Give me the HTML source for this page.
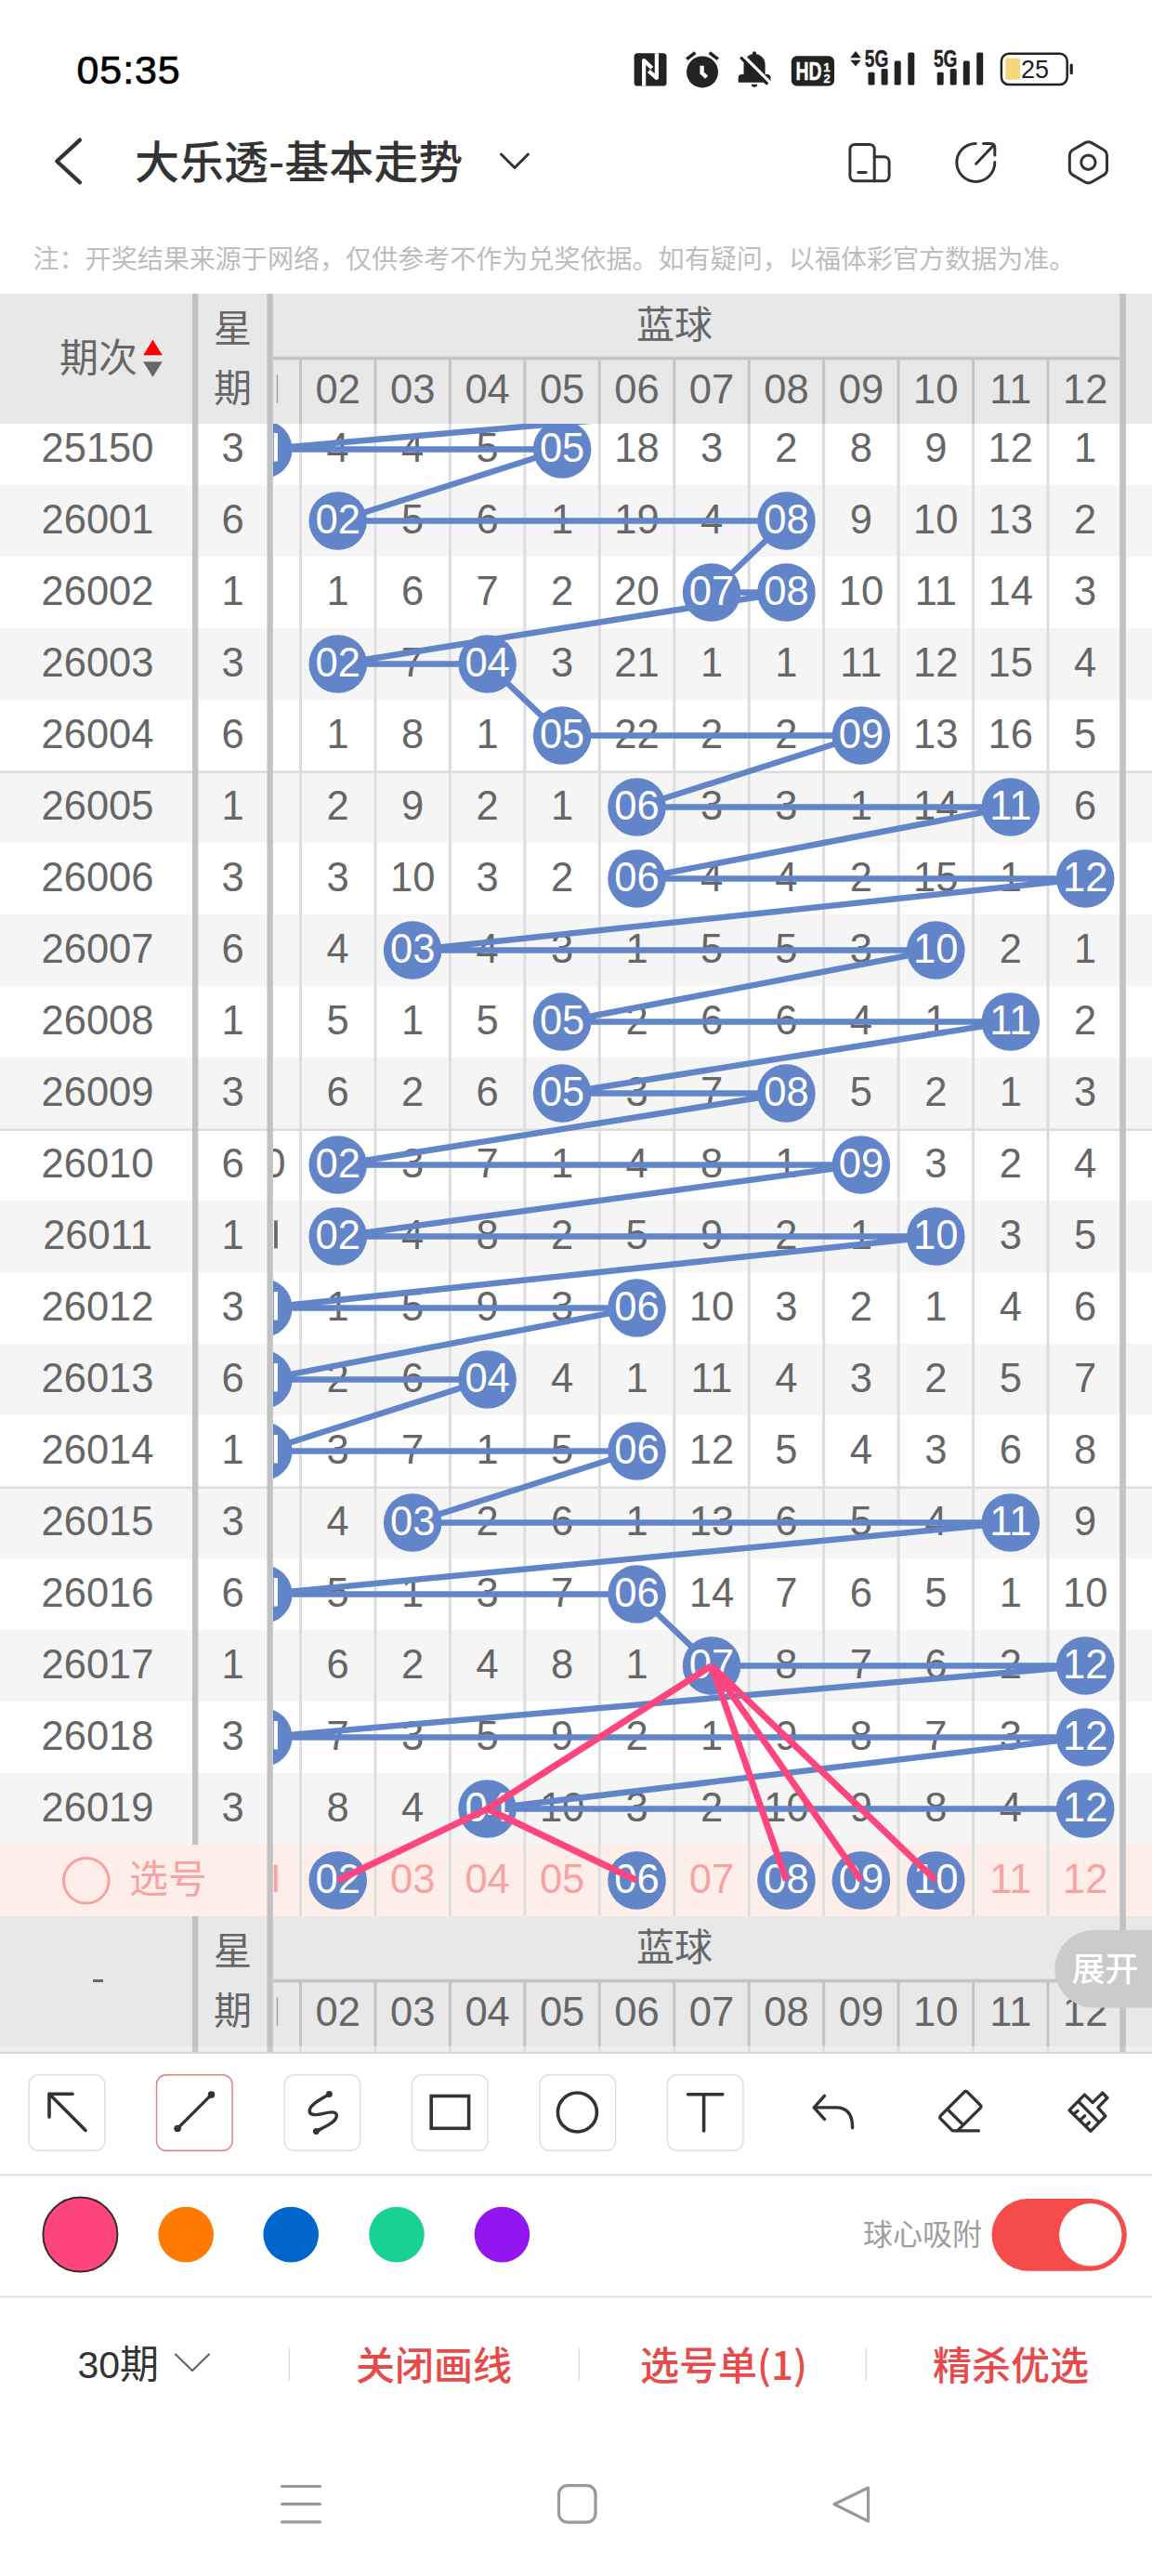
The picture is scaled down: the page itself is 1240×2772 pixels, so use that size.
<!DOCTYPE html><html><head><meta charset="utf-8"><title>大乐透-基本走势</title><style>
html,body{margin:0;padding:0;background:#fff;}
body{width:1240px;height:2772px;overflow:hidden;position:relative;font-family:'Liberation Sans','Noto Sans CJK SC',sans-serif;}
svg{position:absolute;left:0;top:0;display:block;}
</style></head><body>
<svg width="1240" height="2772" viewBox="0 0 1240 2772">
<defs>
<clipPath id="cbody"><rect x="294" y="456" width="946" height="1606"/></clipPath>
<clipPath id="cbody2"><rect x="294" y="456" width="911" height="1606"/></clipPath>
<clipPath id="chead"><rect x="294" y="316" width="911" height="140"/></clipPath>
<clipPath id="cfoot"><rect x="294" y="2062" width="911" height="147"/></clipPath>
</defs>
<rect x="0" y="445" width="1240" height="77" fill="#ffffff"/>
<rect x="0" y="522" width="1240" height="77" fill="#f5f5f5"/>
<rect x="0" y="599" width="1240" height="77" fill="#ffffff"/>
<rect x="0" y="676" width="1240" height="77" fill="#f5f5f5"/>
<rect x="0" y="753" width="1240" height="77" fill="#ffffff"/>
<rect x="0" y="830" width="1240" height="77" fill="#f5f5f5"/>
<rect x="0" y="907" width="1240" height="77" fill="#ffffff"/>
<rect x="0" y="984" width="1240" height="77" fill="#f5f5f5"/>
<rect x="0" y="1061" width="1240" height="77" fill="#ffffff"/>
<rect x="0" y="1138" width="1240" height="77" fill="#f5f5f5"/>
<rect x="0" y="1215" width="1240" height="77" fill="#ffffff"/>
<rect x="0" y="1292" width="1240" height="77" fill="#f5f5f5"/>
<rect x="0" y="1369" width="1240" height="77" fill="#ffffff"/>
<rect x="0" y="1446" width="1240" height="77" fill="#f5f5f5"/>
<rect x="0" y="1523" width="1240" height="77" fill="#ffffff"/>
<rect x="0" y="1600" width="1240" height="77" fill="#f5f5f5"/>
<rect x="0" y="1677" width="1240" height="77" fill="#ffffff"/>
<rect x="0" y="1754" width="1240" height="77" fill="#f5f5f5"/>
<rect x="0" y="1831" width="1240" height="77" fill="#ffffff"/>
<rect x="0" y="1908" width="1240" height="77" fill="#f5f5f5"/>
<rect x="0" y="1985" width="1240" height="77" fill="#fdeee9"/>
<rect x="0" y="829.5" width="1240" height="2.5" fill="#dcdcdc"/>
<rect x="0" y="1214.5" width="1240" height="2.5" fill="#dcdcdc"/>
<rect x="0" y="1599.5" width="1240" height="2.5" fill="#dcdcdc"/>
<g clip-path="url(#cbody)">
<rect x="241.55" y="456" width="3" height="1606" fill="#dddddd"/>
<rect x="322.00" y="456" width="3" height="1606" fill="#dddddd"/>
<rect x="402.45" y="456" width="3" height="1606" fill="#dddddd"/>
<rect x="482.90" y="456" width="3" height="1606" fill="#dddddd"/>
<rect x="563.35" y="456" width="3" height="1606" fill="#dddddd"/>
<rect x="643.80" y="456" width="3" height="1606" fill="#dddddd"/>
<rect x="724.25" y="456" width="3" height="1606" fill="#dddddd"/>
<rect x="804.70" y="456" width="3" height="1606" fill="#dddddd"/>
<rect x="885.15" y="456" width="3" height="1606" fill="#dddddd"/>
<rect x="965.60" y="456" width="3" height="1606" fill="#dddddd"/>
<rect x="1046.05" y="456" width="3" height="1606" fill="#dddddd"/>
<rect x="1126.50" y="456" width="3" height="1606" fill="#dddddd"/>
</g>
<g clip-path="url(#cbody2)" font-size="43.5" fill="#666666" text-anchor="middle">
<text x="363.7" y="497.0">4</text>
<text x="444.2" y="497.0">4</text>
<text x="524.6" y="497.0">5</text>
<text x="685.5" y="497.0">18</text>
<text x="766.0" y="497.0">3</text>
<text x="846.4" y="497.0">2</text>
<text x="926.9" y="497.0">8</text>
<text x="1007.3" y="497.0">9</text>
<text x="1087.8" y="497.0">12</text>
<text x="1168.2" y="497.0">1</text>
<text x="444.2" y="574.0">5</text>
<text x="524.6" y="574.0">6</text>
<text x="605.1" y="574.0">1</text>
<text x="685.5" y="574.0">19</text>
<text x="766.0" y="574.0">4</text>
<text x="926.9" y="574.0">9</text>
<text x="1007.3" y="574.0">10</text>
<text x="1087.8" y="574.0">13</text>
<text x="1168.2" y="574.0">2</text>
<text x="363.7" y="651.0">1</text>
<text x="444.2" y="651.0">6</text>
<text x="524.6" y="651.0">7</text>
<text x="605.1" y="651.0">2</text>
<text x="685.5" y="651.0">20</text>
<text x="926.9" y="651.0">10</text>
<text x="1007.3" y="651.0">11</text>
<text x="1087.8" y="651.0">14</text>
<text x="1168.2" y="651.0">3</text>
<text x="444.2" y="728.0">7</text>
<text x="605.1" y="728.0">3</text>
<text x="685.5" y="728.0">21</text>
<text x="766.0" y="728.0">1</text>
<text x="846.4" y="728.0">1</text>
<text x="926.9" y="728.0">11</text>
<text x="1007.3" y="728.0">12</text>
<text x="1087.8" y="728.0">15</text>
<text x="1168.2" y="728.0">4</text>
<text x="363.7" y="805.0">1</text>
<text x="444.2" y="805.0">8</text>
<text x="524.6" y="805.0">1</text>
<text x="685.5" y="805.0">22</text>
<text x="766.0" y="805.0">2</text>
<text x="846.4" y="805.0">2</text>
<text x="1007.3" y="805.0">13</text>
<text x="1087.8" y="805.0">16</text>
<text x="1168.2" y="805.0">5</text>
<text x="363.7" y="882.0">2</text>
<text x="444.2" y="882.0">9</text>
<text x="524.6" y="882.0">2</text>
<text x="605.1" y="882.0">1</text>
<text x="766.0" y="882.0">3</text>
<text x="846.4" y="882.0">3</text>
<text x="926.9" y="882.0">1</text>
<text x="1007.3" y="882.0">14</text>
<text x="1168.2" y="882.0">6</text>
<text x="363.7" y="959.0">3</text>
<text x="444.2" y="959.0">10</text>
<text x="524.6" y="959.0">3</text>
<text x="605.1" y="959.0">2</text>
<text x="766.0" y="959.0">4</text>
<text x="846.4" y="959.0">4</text>
<text x="926.9" y="959.0">2</text>
<text x="1007.3" y="959.0">15</text>
<text x="1087.8" y="959.0">1</text>
<text x="363.7" y="1036.0">4</text>
<text x="524.6" y="1036.0">4</text>
<text x="605.1" y="1036.0">3</text>
<text x="685.5" y="1036.0">1</text>
<text x="766.0" y="1036.0">5</text>
<text x="846.4" y="1036.0">5</text>
<text x="926.9" y="1036.0">3</text>
<text x="1087.8" y="1036.0">2</text>
<text x="1168.2" y="1036.0">1</text>
<text x="363.7" y="1113.0">5</text>
<text x="444.2" y="1113.0">1</text>
<text x="524.6" y="1113.0">5</text>
<text x="685.5" y="1113.0">2</text>
<text x="766.0" y="1113.0">6</text>
<text x="846.4" y="1113.0">6</text>
<text x="926.9" y="1113.0">4</text>
<text x="1007.3" y="1113.0">1</text>
<text x="1168.2" y="1113.0">2</text>
<text x="363.7" y="1190.0">6</text>
<text x="444.2" y="1190.0">2</text>
<text x="524.6" y="1190.0">6</text>
<text x="685.5" y="1190.0">3</text>
<text x="766.0" y="1190.0">7</text>
<text x="926.9" y="1190.0">5</text>
<text x="1007.3" y="1190.0">2</text>
<text x="1087.8" y="1190.0">1</text>
<text x="1168.2" y="1190.0">3</text>
<text x="283.3" y="1267.0">10</text>
<text x="444.2" y="1267.0">3</text>
<text x="524.6" y="1267.0">7</text>
<text x="605.1" y="1267.0">1</text>
<text x="685.5" y="1267.0">4</text>
<text x="766.0" y="1267.0">8</text>
<text x="846.4" y="1267.0">1</text>
<text x="1007.3" y="1267.0">3</text>
<text x="1087.8" y="1267.0">2</text>
<text x="1168.2" y="1267.0">4</text>
<rect x="295.1" y="1313.3" width="3.7" height="30" fill="#666666"/>
<text x="444.2" y="1344.0">4</text>
<text x="524.6" y="1344.0">8</text>
<text x="605.1" y="1344.0">2</text>
<text x="685.5" y="1344.0">5</text>
<text x="766.0" y="1344.0">9</text>
<text x="846.4" y="1344.0">2</text>
<text x="926.9" y="1344.0">1</text>
<text x="1087.8" y="1344.0">3</text>
<text x="1168.2" y="1344.0">5</text>
<text x="363.7" y="1421.0">1</text>
<text x="444.2" y="1421.0">5</text>
<text x="524.6" y="1421.0">9</text>
<text x="605.1" y="1421.0">3</text>
<text x="766.0" y="1421.0">10</text>
<text x="846.4" y="1421.0">3</text>
<text x="926.9" y="1421.0">2</text>
<text x="1007.3" y="1421.0">1</text>
<text x="1087.8" y="1421.0">4</text>
<text x="1168.2" y="1421.0">6</text>
<text x="363.7" y="1498.0">2</text>
<text x="444.2" y="1498.0">6</text>
<text x="605.1" y="1498.0">4</text>
<text x="685.5" y="1498.0">1</text>
<text x="766.0" y="1498.0">11</text>
<text x="846.4" y="1498.0">4</text>
<text x="926.9" y="1498.0">3</text>
<text x="1007.3" y="1498.0">2</text>
<text x="1087.8" y="1498.0">5</text>
<text x="1168.2" y="1498.0">7</text>
<text x="363.7" y="1575.0">3</text>
<text x="444.2" y="1575.0">7</text>
<text x="524.6" y="1575.0">1</text>
<text x="605.1" y="1575.0">5</text>
<text x="766.0" y="1575.0">12</text>
<text x="846.4" y="1575.0">5</text>
<text x="926.9" y="1575.0">4</text>
<text x="1007.3" y="1575.0">3</text>
<text x="1087.8" y="1575.0">6</text>
<text x="1168.2" y="1575.0">8</text>
<text x="363.7" y="1652.0">4</text>
<text x="524.6" y="1652.0">2</text>
<text x="605.1" y="1652.0">6</text>
<text x="685.5" y="1652.0">1</text>
<text x="766.0" y="1652.0">13</text>
<text x="846.4" y="1652.0">6</text>
<text x="926.9" y="1652.0">5</text>
<text x="1007.3" y="1652.0">4</text>
<text x="1168.2" y="1652.0">9</text>
<text x="363.7" y="1729.0">5</text>
<text x="444.2" y="1729.0">1</text>
<text x="524.6" y="1729.0">3</text>
<text x="605.1" y="1729.0">7</text>
<text x="766.0" y="1729.0">14</text>
<text x="846.4" y="1729.0">7</text>
<text x="926.9" y="1729.0">6</text>
<text x="1007.3" y="1729.0">5</text>
<text x="1087.8" y="1729.0">1</text>
<text x="1168.2" y="1729.0">10</text>
<text x="363.7" y="1806.0">6</text>
<text x="444.2" y="1806.0">2</text>
<text x="524.6" y="1806.0">4</text>
<text x="605.1" y="1806.0">8</text>
<text x="685.5" y="1806.0">1</text>
<text x="846.4" y="1806.0">8</text>
<text x="926.9" y="1806.0">7</text>
<text x="1007.3" y="1806.0">6</text>
<text x="1087.8" y="1806.0">2</text>
<text x="363.7" y="1883.0">7</text>
<text x="444.2" y="1883.0">3</text>
<text x="524.6" y="1883.0">5</text>
<text x="605.1" y="1883.0">9</text>
<text x="685.5" y="1883.0">2</text>
<text x="766.0" y="1883.0">1</text>
<text x="846.4" y="1883.0">9</text>
<text x="926.9" y="1883.0">8</text>
<text x="1007.3" y="1883.0">7</text>
<text x="1087.8" y="1883.0">3</text>
<text x="363.7" y="1960.0">8</text>
<text x="444.2" y="1960.0">4</text>
<text x="605.1" y="1960.0">10</text>
<text x="685.5" y="1960.0">3</text>
<text x="766.0" y="1960.0">2</text>
<text x="846.4" y="1960.0">10</text>
<text x="926.9" y="1960.0">9</text>
<text x="1007.3" y="1960.0">8</text>
<text x="1087.8" y="1960.0">4</text>
</g>
<g clip-path="url(#cbody2)">
<polyline fill="none" stroke="#6285c9" stroke-width="6.5" stroke-linejoin="round" points="1168.2,406.5 283.3,483.5 605.1,483.5 363.7,560.5 846.4,560.5 766.0,637.5 846.4,637.5 363.7,714.5 524.6,714.5 605.1,791.5 926.9,791.5 685.5,868.5 1087.8,868.5 685.5,945.5 1168.2,945.5 444.2,1022.5 1007.3,1022.5 605.1,1099.5 1087.8,1099.5 605.1,1176.5 846.4,1176.5 363.7,1253.5 926.9,1253.5 363.7,1330.5 1007.3,1330.5 283.3,1407.5 685.5,1407.5 283.3,1484.5 524.6,1484.5 283.3,1561.5 685.5,1561.5 444.2,1638.5 1087.8,1638.5 283.3,1715.5 685.5,1715.5 766.0,1792.5 1168.2,1792.5 283.3,1869.5 1168.2,1869.5 524.6,1946.5 1168.2,1946.5"/>
<circle cx="283.3" cy="483.5" r="31.3" fill="#6285c9"/>
<rect x="294.8" y="466.0" width="4.1" height="30.5" fill="#fff"/>
<circle cx="605.1" cy="483.5" r="31.3" fill="#6285c9"/>
<text x="605.1" y="497.0" font-size="43.5" fill="#fff" text-anchor="middle">05</text>
<circle cx="363.7" cy="560.5" r="31.3" fill="#6285c9"/>
<text x="363.7" y="574.0" font-size="43.5" fill="#fff" text-anchor="middle">02</text>
<circle cx="846.4" cy="560.5" r="31.3" fill="#6285c9"/>
<text x="846.4" y="574.0" font-size="43.5" fill="#fff" text-anchor="middle">08</text>
<circle cx="766.0" cy="637.5" r="31.3" fill="#6285c9"/>
<text x="766.0" y="651.0" font-size="43.5" fill="#fff" text-anchor="middle">07</text>
<circle cx="846.4" cy="637.5" r="31.3" fill="#6285c9"/>
<text x="846.4" y="651.0" font-size="43.5" fill="#fff" text-anchor="middle">08</text>
<circle cx="363.7" cy="714.5" r="31.3" fill="#6285c9"/>
<text x="363.7" y="728.0" font-size="43.5" fill="#fff" text-anchor="middle">02</text>
<circle cx="524.6" cy="714.5" r="31.3" fill="#6285c9"/>
<text x="524.6" y="728.0" font-size="43.5" fill="#fff" text-anchor="middle">04</text>
<circle cx="605.1" cy="791.5" r="31.3" fill="#6285c9"/>
<text x="605.1" y="805.0" font-size="43.5" fill="#fff" text-anchor="middle">05</text>
<circle cx="926.9" cy="791.5" r="31.3" fill="#6285c9"/>
<text x="926.9" y="805.0" font-size="43.5" fill="#fff" text-anchor="middle">09</text>
<circle cx="685.5" cy="868.5" r="31.3" fill="#6285c9"/>
<text x="685.5" y="882.0" font-size="43.5" fill="#fff" text-anchor="middle">06</text>
<circle cx="1087.8" cy="868.5" r="31.3" fill="#6285c9"/>
<text x="1087.8" y="882.0" font-size="43.5" fill="#fff" text-anchor="middle">11</text>
<circle cx="685.5" cy="945.5" r="31.3" fill="#6285c9"/>
<text x="685.5" y="959.0" font-size="43.5" fill="#fff" text-anchor="middle">06</text>
<circle cx="1168.2" cy="945.5" r="31.3" fill="#6285c9"/>
<text x="1168.2" y="959.0" font-size="43.5" fill="#fff" text-anchor="middle">12</text>
<circle cx="444.2" cy="1022.5" r="31.3" fill="#6285c9"/>
<text x="444.2" y="1036.0" font-size="43.5" fill="#fff" text-anchor="middle">03</text>
<circle cx="1007.3" cy="1022.5" r="31.3" fill="#6285c9"/>
<text x="1007.3" y="1036.0" font-size="43.5" fill="#fff" text-anchor="middle">10</text>
<circle cx="605.1" cy="1099.5" r="31.3" fill="#6285c9"/>
<text x="605.1" y="1113.0" font-size="43.5" fill="#fff" text-anchor="middle">05</text>
<circle cx="1087.8" cy="1099.5" r="31.3" fill="#6285c9"/>
<text x="1087.8" y="1113.0" font-size="43.5" fill="#fff" text-anchor="middle">11</text>
<circle cx="605.1" cy="1176.5" r="31.3" fill="#6285c9"/>
<text x="605.1" y="1190.0" font-size="43.5" fill="#fff" text-anchor="middle">05</text>
<circle cx="846.4" cy="1176.5" r="31.3" fill="#6285c9"/>
<text x="846.4" y="1190.0" font-size="43.5" fill="#fff" text-anchor="middle">08</text>
<circle cx="363.7" cy="1253.5" r="31.3" fill="#6285c9"/>
<text x="363.7" y="1267.0" font-size="43.5" fill="#fff" text-anchor="middle">02</text>
<circle cx="926.9" cy="1253.5" r="31.3" fill="#6285c9"/>
<text x="926.9" y="1267.0" font-size="43.5" fill="#fff" text-anchor="middle">09</text>
<circle cx="363.7" cy="1330.5" r="31.3" fill="#6285c9"/>
<text x="363.7" y="1344.0" font-size="43.5" fill="#fff" text-anchor="middle">02</text>
<circle cx="1007.3" cy="1330.5" r="31.3" fill="#6285c9"/>
<text x="1007.3" y="1344.0" font-size="43.5" fill="#fff" text-anchor="middle">10</text>
<circle cx="283.3" cy="1407.5" r="31.3" fill="#6285c9"/>
<rect x="294.8" y="1390.0" width="4.1" height="30.5" fill="#fff"/>
<circle cx="685.5" cy="1407.5" r="31.3" fill="#6285c9"/>
<text x="685.5" y="1421.0" font-size="43.5" fill="#fff" text-anchor="middle">06</text>
<circle cx="283.3" cy="1484.5" r="31.3" fill="#6285c9"/>
<rect x="294.8" y="1467.0" width="4.1" height="30.5" fill="#fff"/>
<circle cx="524.6" cy="1484.5" r="31.3" fill="#6285c9"/>
<text x="524.6" y="1498.0" font-size="43.5" fill="#fff" text-anchor="middle">04</text>
<circle cx="283.3" cy="1561.5" r="31.3" fill="#6285c9"/>
<rect x="294.8" y="1544.0" width="4.1" height="30.5" fill="#fff"/>
<circle cx="685.5" cy="1561.5" r="31.3" fill="#6285c9"/>
<text x="685.5" y="1575.0" font-size="43.5" fill="#fff" text-anchor="middle">06</text>
<circle cx="444.2" cy="1638.5" r="31.3" fill="#6285c9"/>
<text x="444.2" y="1652.0" font-size="43.5" fill="#fff" text-anchor="middle">03</text>
<circle cx="1087.8" cy="1638.5" r="31.3" fill="#6285c9"/>
<text x="1087.8" y="1652.0" font-size="43.5" fill="#fff" text-anchor="middle">11</text>
<circle cx="283.3" cy="1715.5" r="31.3" fill="#6285c9"/>
<rect x="294.8" y="1698.0" width="4.1" height="30.5" fill="#fff"/>
<circle cx="685.5" cy="1715.5" r="31.3" fill="#6285c9"/>
<text x="685.5" y="1729.0" font-size="43.5" fill="#fff" text-anchor="middle">06</text>
<circle cx="766.0" cy="1792.5" r="31.3" fill="#6285c9"/>
<text x="766.0" y="1806.0" font-size="43.5" fill="#fff" text-anchor="middle">07</text>
<circle cx="1168.2" cy="1792.5" r="31.3" fill="#6285c9"/>
<text x="1168.2" y="1806.0" font-size="43.5" fill="#fff" text-anchor="middle">12</text>
<circle cx="283.3" cy="1869.5" r="31.3" fill="#6285c9"/>
<rect x="294.8" y="1852.0" width="4.1" height="30.5" fill="#fff"/>
<circle cx="1168.2" cy="1869.5" r="31.3" fill="#6285c9"/>
<text x="1168.2" y="1883.0" font-size="43.5" fill="#fff" text-anchor="middle">12</text>
<circle cx="524.6" cy="1946.5" r="31.3" fill="#6285c9"/>
<text x="524.6" y="1960.0" font-size="43.5" fill="#fff" text-anchor="middle">04</text>
<circle cx="1168.2" cy="1946.5" r="31.3" fill="#6285c9"/>
<text x="1168.2" y="1960.0" font-size="43.5" fill="#fff" text-anchor="middle">12</text>
<rect x="294.8" y="2006.7" width="3.95" height="29.1" fill="#f7a3a3"/>
<circle cx="363.7" cy="2023.5" r="31.3" fill="#6285c9"/>
<text x="363.7" y="2037.0" font-size="43.5" fill="#fff" text-anchor="middle">02</text>
<text x="444.2" y="2037.0" font-size="43.5" fill="#f7a3a3" text-anchor="middle">03</text>
<text x="524.6" y="2037.0" font-size="43.5" fill="#f7a3a3" text-anchor="middle">04</text>
<text x="605.1" y="2037.0" font-size="43.5" fill="#f7a3a3" text-anchor="middle">05</text>
<circle cx="685.5" cy="2023.5" r="31.3" fill="#6285c9"/>
<text x="685.5" y="2037.0" font-size="43.5" fill="#fff" text-anchor="middle">06</text>
<text x="766.0" y="2037.0" font-size="43.5" fill="#f7a3a3" text-anchor="middle">07</text>
<circle cx="846.4" cy="2023.5" r="31.3" fill="#6285c9"/>
<text x="846.4" y="2037.0" font-size="43.5" fill="#fff" text-anchor="middle">08</text>
<circle cx="926.9" cy="2023.5" r="31.3" fill="#6285c9"/>
<text x="926.9" y="2037.0" font-size="43.5" fill="#fff" text-anchor="middle">09</text>
<circle cx="1007.3" cy="2023.5" r="31.3" fill="#6285c9"/>
<text x="1007.3" y="2037.0" font-size="43.5" fill="#fff" text-anchor="middle">10</text>
<text x="1087.8" y="2037.0" font-size="43.5" fill="#f7a3a3" text-anchor="middle">11</text>
<text x="1168.2" y="2037.0" font-size="43.5" fill="#f7a3a3" text-anchor="middle">12</text>
<line x1="766.0" y1="1792.5" x2="524.6" y2="1946.5" stroke="#ff457d" stroke-width="7" stroke-linecap="butt"/>
<line x1="524.6" y1="1946.5" x2="363.7" y2="2023.5" stroke="#ff457d" stroke-width="7" stroke-linecap="butt"/>
<line x1="524.6" y1="1946.5" x2="685.5" y2="2023.5" stroke="#ff457d" stroke-width="7" stroke-linecap="butt"/>
<line x1="766.0" y1="1792.5" x2="846.4" y2="2023.5" stroke="#ff457d" stroke-width="7" stroke-linecap="butt"/>
<line x1="766.0" y1="1792.5" x2="926.9" y2="2023.5" stroke="#ff457d" stroke-width="7" stroke-linecap="butt"/>
<line x1="766.0" y1="1792.5" x2="1007.3" y2="2023.5" stroke="#ff457d" stroke-width="7" stroke-linecap="butt"/>
</g>
<rect x="1205.2" y="316" width="6.7" height="1893" fill="#c2c2c2"/>
<g font-size="43.5" fill="#666666" text-anchor="middle">
<text x="105" y="497.0">25150</text>
<text x="250.5" y="497.0">3</text>
<text x="105" y="574.0">26001</text>
<text x="250.5" y="574.0">6</text>
<text x="105" y="651.0">26002</text>
<text x="250.5" y="651.0">1</text>
<text x="105" y="728.0">26003</text>
<text x="250.5" y="728.0">3</text>
<text x="105" y="805.0">26004</text>
<text x="250.5" y="805.0">6</text>
<text x="105" y="882.0">26005</text>
<text x="250.5" y="882.0">1</text>
<text x="105" y="959.0">26006</text>
<text x="250.5" y="959.0">3</text>
<text x="105" y="1036.0">26007</text>
<text x="250.5" y="1036.0">6</text>
<text x="105" y="1113.0">26008</text>
<text x="250.5" y="1113.0">1</text>
<text x="105" y="1190.0">26009</text>
<text x="250.5" y="1190.0">3</text>
<text x="105" y="1267.0">26010</text>
<text x="250.5" y="1267.0">6</text>
<text x="105" y="1344.0">26011</text>
<text x="250.5" y="1344.0">1</text>
<text x="105" y="1421.0">26012</text>
<text x="250.5" y="1421.0">3</text>
<text x="105" y="1498.0">26013</text>
<text x="250.5" y="1498.0">6</text>
<text x="105" y="1575.0">26014</text>
<text x="250.5" y="1575.0">1</text>
<text x="105" y="1652.0">26015</text>
<text x="250.5" y="1652.0">3</text>
<text x="105" y="1729.0">26016</text>
<text x="250.5" y="1729.0">6</text>
<text x="105" y="1806.0">26017</text>
<text x="250.5" y="1806.0">1</text>
<text x="105" y="1883.0">26018</text>
<text x="250.5" y="1883.0">3</text>
<text x="105" y="1960.0">26019</text>
<text x="250.5" y="1960.0">3</text>
</g>
<rect x="207" y="316" width="6.3" height="1669" fill="#c2c2c2"/>
<rect x="207" y="2062" width="6.3" height="147" fill="#c2c2c2"/>
<rect x="287.4" y="316" width="6.4" height="1893" fill="#c2c2c2"/>
<circle cx="92.8" cy="2023.8" r="24.3" fill="none" stroke="#f7a3a3" stroke-width="3"/>
<text x="139" y="2037" font-family="'Noto Sans CJK SC','Liberation Sans',sans-serif" font-size="42" fill="#f7a3a3">选号</text>
<rect x="0" y="316" width="1240" height="140" fill="#e8e8e8"/>
<rect x="294" y="383.8" width="911" height="3.6" fill="#c4c4c4"/>
<g clip-path="url(#chead)">
<rect x="241.55" y="387" width="3" height="69" fill="#c4c4c4"/>
<rect x="322.00" y="387" width="3" height="69" fill="#c4c4c4"/>
<rect x="402.45" y="387" width="3" height="69" fill="#c4c4c4"/>
<rect x="482.90" y="387" width="3" height="69" fill="#c4c4c4"/>
<rect x="563.35" y="387" width="3" height="69" fill="#c4c4c4"/>
<rect x="643.80" y="387" width="3" height="69" fill="#c4c4c4"/>
<rect x="724.25" y="387" width="3" height="69" fill="#c4c4c4"/>
<rect x="804.70" y="387" width="3" height="69" fill="#c4c4c4"/>
<rect x="885.15" y="387" width="3" height="69" fill="#c4c4c4"/>
<rect x="965.60" y="387" width="3" height="69" fill="#c4c4c4"/>
<rect x="1046.05" y="387" width="3" height="69" fill="#c4c4c4"/>
<rect x="1126.50" y="387" width="3" height="69" fill="#c4c4c4"/>
<text x="726" y="364" font-family="'Noto Sans CJK SC','Liberation Sans',sans-serif" font-size="41" fill="#666666" text-anchor="middle">蓝球</text>
<rect x="297.8" y="403.4" width="1.3" height="30.2" fill="#999"/>
<text x="363.7" y="434" font-size="43.5" fill="#666666" text-anchor="middle">02</text>
<text x="444.2" y="434" font-size="43.5" fill="#666666" text-anchor="middle">03</text>
<text x="524.6" y="434" font-size="43.5" fill="#666666" text-anchor="middle">04</text>
<text x="605.1" y="434" font-size="43.5" fill="#666666" text-anchor="middle">05</text>
<text x="685.5" y="434" font-size="43.5" fill="#666666" text-anchor="middle">06</text>
<text x="766.0" y="434" font-size="43.5" fill="#666666" text-anchor="middle">07</text>
<text x="846.4" y="434" font-size="43.5" fill="#666666" text-anchor="middle">08</text>
<text x="926.9" y="434" font-size="43.5" fill="#666666" text-anchor="middle">09</text>
<text x="1007.3" y="434" font-size="43.5" fill="#666666" text-anchor="middle">10</text>
<text x="1087.8" y="434" font-size="43.5" fill="#666666" text-anchor="middle">11</text>
<text x="1168.2" y="434" font-size="43.5" fill="#666666" text-anchor="middle">12</text>
</g>
<rect x="207" y="316" width="6.3" height="140" fill="#c2c2c2"/>
<rect x="287.4" y="316" width="6.4" height="140" fill="#c2c2c2"/>
<rect x="1205.2" y="316" width="6.7" height="140" fill="#c2c2c2"/>
<text x="250.5" y="368" font-family="'Noto Sans CJK SC','Liberation Sans',sans-serif" font-size="41" fill="#666666" text-anchor="middle">星</text>
<text x="250.5" y="432" font-family="'Noto Sans CJK SC','Liberation Sans',sans-serif" font-size="41" fill="#666666" text-anchor="middle">期</text>
<text x="64" y="400" font-family="'Noto Sans CJK SC','Liberation Sans',sans-serif" font-size="42" fill="#666666">期次</text>
<polygon points="164.5,365.4 154.2,382.3 174.8,382.3" fill="#ff0000"/>
<polygon points="154.2,389.2 174.8,389.2 164.5,405.8" fill="#666666"/>
<rect x="0" y="2062" width="1240" height="140" fill="#e8e8e8"/>
<rect x="294" y="2129.8" width="911" height="3.6" fill="#c4c4c4"/>
<g clip-path="url(#cfoot)">
<rect x="241.55" y="2133" width="3" height="69" fill="#c4c4c4"/>
<rect x="322.00" y="2133" width="3" height="69" fill="#c4c4c4"/>
<rect x="402.45" y="2133" width="3" height="69" fill="#c4c4c4"/>
<rect x="482.90" y="2133" width="3" height="69" fill="#c4c4c4"/>
<rect x="563.35" y="2133" width="3" height="69" fill="#c4c4c4"/>
<rect x="643.80" y="2133" width="3" height="69" fill="#c4c4c4"/>
<rect x="724.25" y="2133" width="3" height="69" fill="#c4c4c4"/>
<rect x="804.70" y="2133" width="3" height="69" fill="#c4c4c4"/>
<rect x="885.15" y="2133" width="3" height="69" fill="#c4c4c4"/>
<rect x="965.60" y="2133" width="3" height="69" fill="#c4c4c4"/>
<rect x="1046.05" y="2133" width="3" height="69" fill="#c4c4c4"/>
<rect x="1126.50" y="2133" width="3" height="69" fill="#c4c4c4"/>
<text x="726" y="2110" font-family="'Noto Sans CJK SC','Liberation Sans',sans-serif" font-size="41" fill="#666666" text-anchor="middle">蓝球</text>
<rect x="297.8" y="2149.4" width="1.3" height="30.2" fill="#999"/>
<text x="363.7" y="2180" font-size="43.5" fill="#666666" text-anchor="middle">02</text>
<text x="444.2" y="2180" font-size="43.5" fill="#666666" text-anchor="middle">03</text>
<text x="524.6" y="2180" font-size="43.5" fill="#666666" text-anchor="middle">04</text>
<text x="605.1" y="2180" font-size="43.5" fill="#666666" text-anchor="middle">05</text>
<text x="685.5" y="2180" font-size="43.5" fill="#666666" text-anchor="middle">06</text>
<text x="766.0" y="2180" font-size="43.5" fill="#666666" text-anchor="middle">07</text>
<text x="846.4" y="2180" font-size="43.5" fill="#666666" text-anchor="middle">08</text>
<text x="926.9" y="2180" font-size="43.5" fill="#666666" text-anchor="middle">09</text>
<text x="1007.3" y="2180" font-size="43.5" fill="#666666" text-anchor="middle">10</text>
<text x="1087.8" y="2180" font-size="43.5" fill="#666666" text-anchor="middle">11</text>
<text x="1168.2" y="2180" font-size="43.5" fill="#666666" text-anchor="middle">12</text>
</g>
<rect x="207" y="2062" width="6.3" height="140" fill="#c2c2c2"/>
<rect x="287.4" y="2062" width="6.4" height="140" fill="#c2c2c2"/>
<rect x="1205.2" y="2062" width="6.7" height="140" fill="#c2c2c2"/>
<text x="250.5" y="2114" font-family="'Noto Sans CJK SC','Liberation Sans',sans-serif" font-size="41" fill="#666666" text-anchor="middle">星</text>
<text x="250.5" y="2178" font-family="'Noto Sans CJK SC','Liberation Sans',sans-serif" font-size="41" fill="#666666" text-anchor="middle">期</text>
<rect x="100" y="2130" width="11" height="3" fill="#666666"/>
<rect x="0" y="2202" width="1240" height="6" fill="#efeff2"/>
<rect x="207" y="2202" width="6.4" height="6" fill="#c8c8c8"/>
<rect x="287.4" y="2202" width="6.4" height="6" fill="#c8c8c8"/>
<rect x="1205.2" y="2202" width="6.4" height="6" fill="#c8c8c8"/>
<rect x="322.00" y="2202" width="3" height="6" fill="#dedede"/>
<rect x="402.45" y="2202" width="3" height="6" fill="#dedede"/>
<rect x="482.90" y="2202" width="3" height="6" fill="#dedede"/>
<rect x="563.35" y="2202" width="3" height="6" fill="#dedede"/>
<rect x="643.80" y="2202" width="3" height="6" fill="#dedede"/>
<rect x="724.25" y="2202" width="3" height="6" fill="#dedede"/>
<rect x="804.70" y="2202" width="3" height="6" fill="#dedede"/>
<rect x="885.15" y="2202" width="3" height="6" fill="#dedede"/>
<rect x="965.60" y="2202" width="3" height="6" fill="#dedede"/>
<rect x="1046.05" y="2202" width="3" height="6" fill="#dedede"/>
<rect x="1126.50" y="2202" width="3" height="6" fill="#dedede"/>
<rect x="0" y="2208" width="1240" height="2" fill="#d6d6d6"/>
<path d="M1177.1,2077 H1240 V2160.6 H1177.1 A41.8,41.8 0 0 1 1177.1,2077 Z" fill="#cbcbcb"/>
<text x="1153.5" y="2131.6" font-family="'Noto Sans CJK SC','Liberation Sans',sans-serif" font-size="36" font-weight="500" fill="#ffffff">展开</text>
<text x="82.5" y="90.2" font-family="'Liberation Sans','Noto Sans CJK SC',sans-serif" font-size="43" letter-spacing="0.9" fill="#000" stroke="#000" stroke-width="0.7">05:35</text>
<rect x="682.6" y="57.3" width="34.9" height="35.2" rx="3.6" fill="#232323"/>
<path d="M693.1,92.6 V65 L701.8,73.2" stroke="#fff" stroke-width="4.2" fill="none" stroke-linejoin="round"/>
<path d="M706.85,57.2 V83.8 L698.2,76.4" stroke="#fff" stroke-width="4.2" fill="none" stroke-linejoin="round"/>
<circle cx="756" cy="77.4" r="17" fill="#232323"/>
<path d="M739.2,63.6 L748.4,56.6 M763.6,56.6 L772.8,63.6" stroke="#232323" stroke-width="3.6"/>
<path d="M755.6,70.7 V78.6 L760.6,83.2" stroke="#fff" stroke-width="4.4" fill="none"/>
<path d="M800.5,80 V69.5 A11.55,11.55 0 0 1 823.6,69.5 V80 H826 Q829.5,80 829.5,84 V88.7 H794.7 V84 Q794.7,80 798.2,80 Z" fill="#232323"/>
<circle cx="812" cy="57.4" r="2.1" fill="#232323"/>
<path d="M808.8,90.8 A3.2,3 0 0 0 815.2,90.8 Z" fill="#232323"/>
<path d="M796.2,56 L832.4,92.2" stroke="#fff" stroke-width="3.4"/>
<path d="M797.2,61.6 L826.2,90.6" stroke="#232323" stroke-width="3.2"/>
<rect x="851.8" y="60.3" width="46.2" height="32.1" rx="6" fill="#222"/>
<text x="856.6" y="85.6" font-family="'Liberation Sans','Noto Sans CJK SC',sans-serif" font-size="27" font-weight="700" fill="#fff" stroke="#fff" stroke-width="0.5" textLength="28" lengthAdjust="spacingAndGlyphs">HD</text>
<text x="890.1" y="76.9" font-family="'Liberation Sans','Noto Sans CJK SC',sans-serif" font-size="13.5" font-weight="700" fill="#fff" stroke="#fff" stroke-width="0.3" text-anchor="middle">1</text>
<text x="890.1" y="88.7" font-family="'Liberation Sans','Noto Sans CJK SC',sans-serif" font-size="13" font-weight="700" fill="#fff" stroke="#fff" stroke-width="0.3" text-anchor="middle">2</text>
<polygon points="921,55 915.2,62.2 926.8,62.2" fill="#222"/>
<polygon points="915.2,64.8 926.8,64.8 921,71.2" fill="#222"/>
<text x="930.8" y="71.9" font-family="'Liberation Sans','Noto Sans CJK SC',sans-serif" font-size="25" font-weight="700" fill="#222" stroke="#222" stroke-width="0.4" textLength="25.4" lengthAdjust="spacingAndGlyphs">5G</text>
<text x="1005" y="71.9" font-family="'Liberation Sans','Noto Sans CJK SC',sans-serif" font-size="25" font-weight="700" fill="#222" stroke="#222" stroke-width="0.4" textLength="25.4" lengthAdjust="spacingAndGlyphs">5G</text>
<rect x="934.5" y="77.7" width="7" height="13.8" rx="1.5" fill="#222"/>
<rect x="948.6" y="74" width="7" height="17.5" rx="1.5" fill="#222"/>
<rect x="962.7" y="65.5" width="7" height="26" rx="1.5" fill="#222"/>
<rect x="977.3" y="56.5" width="7" height="35" rx="1.5" fill="#222"/>
<rect x="1008.7" y="77.7" width="7" height="13.8" rx="1.5" fill="#222"/>
<rect x="1022.7" y="74" width="7" height="17.5" rx="1.5" fill="#222"/>
<rect x="1036.8" y="65.5" width="7" height="26" rx="1.5" fill="#222"/>
<rect x="1051.2" y="56.5" width="7" height="35" rx="1.5" fill="#222"/>
<rect x="1077.9" y="57.7" width="70.8" height="33.4" rx="8" fill="none" stroke="#222" stroke-width="2.5"/>
<rect x="1082.3" y="62.4" width="15.7" height="23.3" rx="2" fill="#f8d57e"/>
<rect x="1151.6" y="68.7" width="3.2" height="11.4" rx="1" fill="#222"/>
<text x="1099" y="83.7" font-family="'Liberation Sans','Noto Sans CJK SC',sans-serif" font-size="27" fill="#222">25</text>
<path d="M86,150.6 L61.2,173.5 L86,196.4" stroke="#333" stroke-width="4.2" fill="none" stroke-linecap="round" stroke-linejoin="round"/>
<text x="145" y="192" font-family="'Noto Sans CJK SC','Liberation Sans',sans-serif" font-size="48" font-weight="500" fill="#333">大乐透-基本走势</text>
<path d="M539.5,166 L554,180.5 L568.5,166" stroke="#333" stroke-width="3" fill="none" stroke-linecap="round" stroke-linejoin="round"/>
<g stroke="#333" stroke-width="3" fill="none" stroke-linecap="round" stroke-linejoin="round">
<path d="M941.2,194.7 H920.1 A5.2,5.2 0 0 1 914.9,189.5 V160.6 A5.2,5.2 0 0 1 920.1,155.4 H936 A5.2,5.2 0 0 1 941.2,160.6 Z"/>
<path d="M941.2,168.7 H951.9 A5.2,5.2 0 0 1 957.1,173.9 V189.5 A5.2,5.2 0 0 1 951.9,194.7 H941.2"/>
<path d="M923.9,185.5 H932.2"/>
<path d="M1050.2,154.4 A20.5,20.5 0 1 0 1070.8,174.6"/>
<path d="M1050.6,176.2 L1069.6,156.2 M1058.5,154.4 H1066 Q1070.8,154.4 1070.8,159.2 V167.1"/>
<path d="M1167.50,153.85 Q1171.40,151.60 1175.30,153.85 L1187.59,160.95 Q1191.49,163.20 1191.49,167.70 L1191.49,181.90 Q1191.49,186.40 1187.59,188.65 L1175.30,195.75 Q1171.40,198.00 1167.50,195.75 L1155.21,188.65 Q1151.31,186.40 1151.31,181.90 L1151.31,167.70 Q1151.31,163.20 1155.21,160.95 Z"/>
<circle cx="1171.4" cy="174.7" r="7.7"/>
</g>
<text x="35.5" y="289" font-family="'Noto Sans CJK SC','Liberation Sans',sans-serif" font-size="28.05" fill="#bdbdbd">注：开奖结果来源于网络，仅供参考不作为兑奖依据。如有疑问，以福体彩官方数据为准。</text>
<rect x="31.2" y="2232.7" width="81.6" height="81.6" rx="10.5" fill="#fff" stroke="#dedede" stroke-width="1.4"/>
<rect x="168.5" y="2232.7" width="81.6" height="81.6" rx="10.5" fill="#fff" stroke="#d98080" stroke-width="1.4"/>
<rect x="306.2" y="2232.7" width="81.6" height="81.6" rx="10.5" fill="#fff" stroke="#dedede" stroke-width="1.4"/>
<rect x="443.5" y="2232.7" width="81.6" height="81.6" rx="10.5" fill="#fff" stroke="#dedede" stroke-width="1.4"/>
<rect x="581.1" y="2232.7" width="81.6" height="81.6" rx="10.5" fill="#fff" stroke="#dedede" stroke-width="1.4"/>
<rect x="718.4" y="2232.7" width="81.6" height="81.6" rx="10.5" fill="#fff" stroke="#dedede" stroke-width="1.4"/>
<g stroke="#333" stroke-width="3.6" fill="none" stroke-linecap="round" stroke-linejoin="round">
<path d="M78.1,2253.2 H53 V2278.1 M53,2253.2 L92,2292.4"/>
<path d="M191.1,2290.5 L227.5,2254.1" stroke-width="3.3"/>
<path d="M354.4,2253.5 C343,2260 334,2265 333.2,2271 C332.6,2276.5 340,2276.2 347,2274.6 C354,2273 362.5,2270.8 362.3,2277 C362,2284 348,2289.5 340.4,2293.5" stroke-width="3.4"/>
<rect x="464.2" y="2255.5" width="40.4" height="34.8" stroke-linecap="butt" stroke-linejoin="miter" stroke-width="3.6"/>
<circle cx="621.4" cy="2273" r="21" stroke-width="3.6"/>
<path d="M740.6,2253.8 H777.8 M757.6,2253.8 V2293" stroke-width="3.6"/>
<path d="M887.4,2255.4 L876.2,2267.9 L887.4,2280.4 M876.5,2267.9 H900.4 C912,2268 917.6,2276 917.6,2289.8" stroke-width="3.4"/>
<path d="M1053.5,2292.9 H1025.3 L1012.6,2280.2 Q1010.8,2278.4 1012.6,2276.6 L1037.8,2251.4 Q1039.6,2249.6 1041.4,2251.4 L1055,2265 Q1056.8,2266.8 1055,2268.6 L1030.6,2292.9 M1020.6,2270.5 L1034.8,2284.7" stroke-width="3.3"/>
<path d="M1151,2270.8 L1167.4,2254.1 L1176.1,2262.6 L1186.8,2252.1 L1191.9,2257.5 L1181.8,2267.9 L1189.9,2277.2 L1173.9,2293.3 Z M1161.4,2262 L1182.3,2283.2 M1156.4,2274.6 L1160,2271.6 M1163.1,2280.9 L1167.7,2276.8 M1169.3,2287 L1172.4,2284" stroke-width="3.3"/>
</g>
<circle cx="191.1" cy="2290.5" r="3.8" fill="#333"/><circle cx="227.5" cy="2254.1" r="3.8" fill="#333"/>
<circle cx="354.4" cy="2253.5" r="3.4" fill="#333"/><circle cx="340.4" cy="2293.5" r="3.4" fill="#333"/>
<rect x="0" y="2339.5" width="1240" height="2" fill="#dddddd"/>
<rect x="0" y="2470.5" width="1240" height="2" fill="#dddddd"/>
<circle cx="86.4" cy="2404.6" r="40" fill="#ff457d" stroke="#3a2a30" stroke-width="2"/>
<circle cx="200.2" cy="2404.6" r="29.8" fill="#ff7a00"/>
<circle cx="313.2" cy="2404.6" r="29.8" fill="#0066cc"/>
<circle cx="427.0" cy="2404.6" r="29.8" fill="#19d194"/>
<circle cx="540.4" cy="2404.6" r="29.8" fill="#9315f0"/>
<text x="929" y="2416" font-family="'Noto Sans CJK SC','Liberation Sans',sans-serif" font-size="32" fill="#9e9e9e">球心吸附</text>
<rect x="1067.5" y="2366" width="145.3" height="77.7" rx="38.85" fill="#f54b4b"/>
<circle cx="1173.8" cy="2404.8" r="33.7" fill="#fff"/>
<text x="83.5" y="2559" font-family="'Liberation Sans','Noto Sans CJK SC',sans-serif" font-size="41" fill="#333">30<tspan font-family="'Noto Sans CJK SC','Liberation Sans',sans-serif" font-size="42" dy="0">期</tspan></text>
<path d="M189,2533.5 L207,2551 L225,2533.5" stroke="#666" stroke-width="2.2" fill="none" stroke-linecap="round" stroke-linejoin="round"/>
<rect x="310.5" y="2527" width="1.5" height="35" fill="#dddddd"/>
<rect x="622.5" y="2527" width="1.5" height="35" fill="#dddddd"/>
<rect x="931.5" y="2527" width="1.5" height="35" fill="#dddddd"/>
<text x="383" y="2561" font-family="'Noto Sans CJK SC','Liberation Sans',sans-serif" font-size="42" font-weight="500" fill="#e84a4a">关闭画线</text>
<text x="689" y="2561" font-family="'Noto Sans CJK SC','Liberation Sans',sans-serif" font-size="42" font-weight="500" fill="#e84a4a">选号单(1)</text>
<text x="1004" y="2561" font-family="'Noto Sans CJK SC','Liberation Sans',sans-serif" font-size="42" font-weight="500" fill="#e84a4a">精杀优选</text>
<g stroke="#999" stroke-width="3.2" fill="none" stroke-linecap="round" stroke-linejoin="round">
<path d="M303.5,2675.5 H344.5 M303.5,2694.6 H344.5 M303.5,2713.8 H344.5"/>
<rect x="601.5" y="2674.6" width="39.5" height="39.5" rx="9.5"/>
<path d="M934.5,2677 L898,2694.8 L934.5,2713 Z"/>
</g>
</svg>
</body></html>
